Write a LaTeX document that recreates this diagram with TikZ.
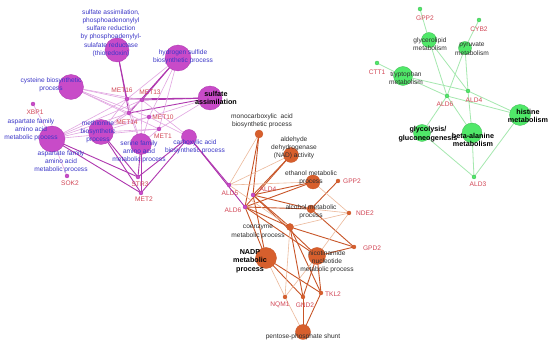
\documentclass[tikz,border=0pt]{standalone}
\usepackage{fontspec}
\setmainfont{Liberation Sans}
\pgfdeclarelayer{bg}
\pgfsetlayers{bg,main}
\definecolor{pfill}{RGB}{200,75,200}
\definecolor{pdark}{RGB}{175,55,175}
\definecolor{plight}{RGB}{225,165,225}
\definecolor{ofill}{RGB}{215,95,45}
\definecolor{odark}{RGB}{200,85,40}
\definecolor{olight}{RGB}{236,185,155}
\definecolor{gfill}{RGB}{80,232,105}
\definecolor{gedge}{RGB}{165,232,175}
\definecolor{tblue}{RGB}{60,55,200}
\definecolor{tred}{RGB}{210,70,85}
\definecolor{tblack}{RGB}{45,45,45}
\begin{document}
\begin{tikzpicture}[x=1pt,y=-1pt,
  pn/.style={circle,fill=pfill,draw=pdark,line width=0.3pt,inner sep=0pt,minimum size=#1},
  on/.style={circle,fill=ofill,draw=odark,line width=0.3pt,inner sep=0pt,minimum size=#1},
  gn/.style={circle,fill=gfill,draw=gfill!80!black,line width=0.3pt,inner sep=0pt,minimum size=#1},
  txt/.style={inner sep=0pt,align=center,font=\fontsize{6.6}{8.2}\selectfont},
  bl/.style={txt,text=tblue},
  rd/.style={txt,text=tred},
  bk/.style={txt,text=tblack},
  bb/.style={inner sep=0pt,align=center,font=\fontsize{7.2}{8.6}\selectfont\bfseries,text=black},
  pd/.style={draw=pdark,line width=0.9pt},
  pl/.style={draw=plight,line width=0.6pt},
  od/.style={draw=odark,line width=0.9pt},
  ol/.style={draw=olight,line width=0.6pt},
  ge/.style={draw=gedge,line width=0.8pt}]
\useasboundingbox (0,0) rectangle (550,347);
% ---------- purple cluster nodes
\node[pn=24] (sa1) at (117,50) {};
\node[pn=26] (hss) at (178,58) {};
\node[pn=24] (sas) at (210,98) {};
\node[pn=25] (cys) at (71,87) {};
\node[pn=26] (asp) at (52,139) {};
\node[pn=25] (met) at (101,132) {};
\node[pn=21] (ser) at (141,144) {};
\node[pn=15] (cab) at (189,137) {};
\node[pn=4] (xbp1) at (33,104) {};
\node[pn=4] (sok2) at (67,176) {};
\node[pn=4] (met16) at (127,99) {};
\node[pn=4] (met13) at (142,100) {};
\node[pn=4] (met14) at (129,113) {};
\node[pn=4] (met10) at (149,117) {};
\node[pn=4] (met1) at (159,129) {};
\node[pn=4] (str3) at (138,177) {};
\node[pn=4] (met2) at (141,193) {};
% ---------- orange cluster nodes
\node[on=8] (mono) at (259,134) {};
\node[on=15] (aldh) at (291,155) {};
\node[on=14] (eth) at (313,182) {};
\node[on=8] (alc) at (311,209) {};
\node[on=7] (coe) at (290,227) {};
\node[on=21] (nadp) at (266,258) {};
\node[on=17] (nic) at (317,256) {};
\node[on=15] (pps) at (303,332) {};
\node[pn=4] (ald5) at (229,185) {};
\node[pn=4] (ald4) at (253,195) {};
\node[pn=4] (ald6) at (245,207) {};
\node[on=4] (gpp2o) at (338,181) {};
\node[on=4] (nde2) at (349,213) {};
\node[on=4] (gpd2) at (354,247) {};
\node[on=4] (nqm1) at (285,297) {};
\node[on=4] (gnd2) at (303,297) {};
\node[on=4] (tkl2) at (321,293) {};
% ---------- green cluster nodes
\node[gn=15] (glyc) at (429,40) {};
\node[gn=13] (pyr) at (465,48) {};
\node[gn=19] (tryp) at (403,76) {};
\node[gn=21] (his) at (520,115) {};
\node[gn=17] (gly) at (422,133) {};
\node[gn=20] (bet) at (472,133) {};
\node[gn=4] (gpp2g) at (420,9) {};
\node[gn=4] (cyb2) at (479,20) {};
\node[gn=4] (ctt1) at (377,63) {};
\node[gn=4] (gald6) at (447,96) {};
\node[gn=4] (gald4) at (468,91) {};
\node[gn=4] (ald3) at (474,177) {};
% ---------- edges
\begin{pgfonlayer}{bg}
\fill[white] (0,0) rectangle (550,347);
\foreach \a/\b in {sa1/met16,sa1/met14,sas/met16,sas/met13,sas/met14,hss/met14,hss/met13,
  asp/str3,asp/met2,met/str3,met/met2,ser/str3,ser/met2,cab/str3,cab/met2,cab/ald5,cab/ald6}
  \draw[pd] (\a.center) -- (\b.center);
\foreach \a/\b in {hss/met16,hss/met10,hss/met1,cys/met16,cys/met13,cys/met14,cys/met10,cys/met1,
  asp/xbp1,asp/sok2,asp/met16,asp/met13,asp/met14,asp/met10,asp/met1,
  met/met16,met/met13,met/met14,met/met10,met/met1,
  ser/met16,ser/met13,ser/met14,ser/met10,ser/met1,sas/met10,sas/met1,cab/met13,cab/met10}
  \draw[pl] (\a.center) -- (\b.center);
\foreach \a/\b in {mono/ald4,mono/ald6,aldh/ald4,aldh/ald6,eth/ald4,eth/ald6,alc/ald4,alc/ald6,alc/gpp2o,
  coe/ald4,coe/ald6,coe/gpd2,coe/gnd2,coe/tkl2,nadp/ald4,nadp/ald6,nadp/gnd2,nadp/tkl2,
  nic/ald4,nic/ald6,nic/gpd2,nic/gnd2,nic/tkl2,pps/gnd2,pps/tkl2,alc/gpd2}
  \draw[od] (\a.center) -- (\b.center);
\foreach \a/\b in {mono/ald5,aldh/ald5,eth/nde2,eth/ald5,alc/nde2,coe/nde2,coe/ald5,coe/nqm1,
  nadp/nqm1,nic/nqm1,nic/nde2,pps/nqm1}
  \draw[ol] (\a.center) -- (\b.center);
\foreach \a/\b in {gpp2g/glyc,cyb2/pyr,ctt1/tryp,glyc/gald6,glyc/gald4,pyr/gald6,pyr/gald4,
  tryp/gald6,tryp/gald4,gald6/his,gald4/his,gald6/gly,gald6/bet,gald4/bet,ald3/gly,ald3/bet,ald3/his}
  \draw[ge] (\a.center) -- (\b.center);
\end{pgfonlayer}
% ---------- purple labels
\node[bl] (lsa1) at (111,33) {sulfate assimilation,\\phosphoadenonylyl\\sulfare reduction\\by phosphoadenylyl-\\sulafate reductase\\(thioredoxin)};
\node[bl] (lhss) at (183,57) {hydrogen sulfide\\biosynthetic process};
\node[bb] (lsas) at (216,98) {sulfate\\assimilation};
\node[bl] (lcys) at (51,85) {cysteine biosynthetic\\process};
\node[bl] (lasp1) at (31,130) {aspartate family\\amino acid\\metabolic process};
\node[bl] (lasp2) at (61,162) {aspartate family\\amino acid\\metabolic process};
\node[bl] (lmet) at (98,132) {methionine\\biosynthetic\\process};
\node[bl] (lser) at (139,152) {serine family\\amino acid\\metabolic process};
\node[bl] (lcab) at (195,147) {carboxylic acid\\biosynthetic process};
\node[rd] (lxbp1) at (35,112) {XBP1};
\node[rd] (lsok2) at (70,183) {SOK2};
\node[rd] (lmet16) at (122,90) {MET16};
\node[rd] (lmet13) at (150,92) {MET13};
\node[rd] (lmet14) at (127,122) {MET14};
\node[rd] (lmet10) at (163,117) {MET10};
\node[rd] (lmet1) at (163,136) {MET1};
\node[rd] (lstr3) at (140,184) {STR3};
\node[rd] (lmet2) at (144,199) {MET2};
% ---------- orange labels
\node[bk] (lmono) at (262,121) {monocarboxylic\ \ acid\\biosynthetic process};
\node[bk] (laldh) at (294,148) {aldehyde\\dehydrogenase\\(NAD) activity};
\node[bk] (leth) at (311,178) {ethanol metabolic\\process};
\node[bk] (lalc) at (311,212) {alcohol metabolic\\process};
\node[bk] (lcoe) at (258,232) {coenzyme\\metabolic process};
\node[bb] (lnadp) at (250,261) {NADP\\metabolic\\process};
\node[bk] (lnic) at (327,262) {nicotinamide\\nucleotide\\metabolic process};
\node[bk] (lpps) at (303,337) {pentose-phosphate shunt};
\node[rd] (lald5) at (230,193) {ALD5};
\node[rd] (lald4) at (268,189) {ALD4};
\node[rd] (lald6) at (233,210) {ALD6};
\node[rd] (lgpp2o) at (352,181) {GPP2};
\node[rd] (lnde2) at (365,213) {NDE2};
\node[rd] (lgpd2) at (372,248) {GPD2};
\node[rd] (lnqm1) at (280,305) {NQM1};
\node[rd] (lgnd2) at (305,305) {GND2};
\node[rd] (ltkl2) at (333,294) {TKL2};
% ---------- green labels
\node[bk] (lglyc) at (430,44) {glycerolipid\\metabolism};
\node[bk] (lpyr) at (472,49) {pyruvate\\metabolism};
\node[bk] (ltryp) at (406,78) {tryptophan\\metabolism};
\node[bb] (lhis) at (528,116) {histine\\metabolism};
\node[bb] (lgly) at (428,134) {glycolysis/\\gluconeogenesis};
\node[bb] (lbet) at (473,140) {beta-alanine\\metabolism};
\node[rd] (lgpp2g) at (425,18) {GPP2};
\node[rd] (lcyb2) at (479,29) {CYB2};
\node[rd] (lctt1) at (377,72) {CTT1};
\node[rd] (lgald6) at (445,104) {ALD6};
\node[rd] (lgald4) at (474,100) {ALD4};
\node[rd] (lald3) at (478,184) {ALD3};
\end{tikzpicture}
\end{document}
